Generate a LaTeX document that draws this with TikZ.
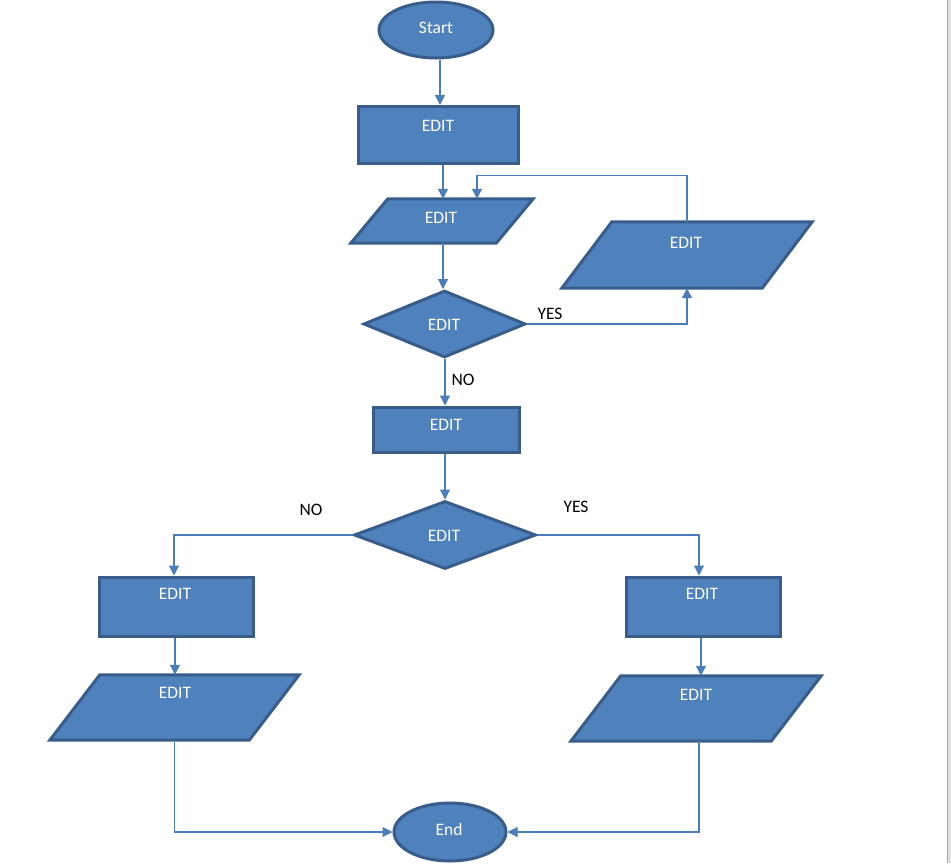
\documentclass[tikz,border=0pt]{standalone}
\usepackage{fontspec}
\setmainfont{Carlito}
\usetikzlibrary{shapes.geometric,arrows.meta,calc}
\definecolor{shapefill}{HTML}{4F81BD}
\definecolor{shapeedge}{HTML}{385D8A}
\definecolor{connc}{HTML}{4A7EBB}
\tikzset{
  shp/.style={fill=shapefill,draw=shapeedge,line width=3pt,inner sep=0pt},
  ell/.style={shp,ellipse},
  dia/.style={shp,diamond},
  txt/.style={text=white,font=\fontsize{17.5}{20}\selectfont,inner sep=0pt},
  lbl/.style={text=black,font=\fontsize{17.5}{20}\selectfont,inner sep=0pt},
  conn/.style={draw=connc,line width=1.1pt,-{Triangle[length=10pt,width=10pt]}},
}
\newcommand\mypara[6]{%
  \node[inner sep=0pt,minimum width={(#4+#6)*1pt},minimum height={#5*1pt}] (#1) at (#2,#3) {};
  \draw[shp] ($(#1.north west)+(#6pt,0pt)$) -- (#1.north east) -- ($(#1.south east)-(#6pt,0pt)$) -- (#1.south west) -- cycle;}
\begin{document}
\begin{tikzpicture}[x=1pt,y=-1pt]
\fill[white] (0,0) rectangle (951,863);
\useasboundingbox (0,0) rectangle (951,863);
\fill[black!12] (947,0) rectangle (951,863);
\draw[black!35,line width=1pt] (947.5,0) -- (947.5,863);

% shapes
\node[ell,minimum width=114pt,minimum height=56pt] (start) at (436,30) {};
\node[txt] at (436,28) {Start};
\node[shp,minimum width=160pt,minimum height=57pt] (r1) at (438.5,135) {};
\node[txt] at (438,126) {EDIT};
\mypara{p1}{442}{221}{145}{44}{37}
\node[txt] at (441,218) {EDIT};
\mypara{p2}{687}{255}{200}{66}{50}
\node[txt] at (686,243) {EDIT};
\node[dia,minimum width=162pt,minimum height=67pt] (d1) at (444.5,324) {};
\node[txt] at (444,325) {EDIT};
\node[shp,minimum width=146pt,minimum height=45pt] (r2) at (446,429.5) {};
\node[txt] at (446,425) {EDIT};
\node[dia,minimum width=182pt,minimum height=68pt] (d2) at (445,535) {};
\node[txt] at (444,536) {EDIT};
\node[shp,minimum width=154pt,minimum height=59pt] (r3) at (176,606.5) {};
\node[txt] at (175,594) {EDIT};
\node[shp,minimum width=154pt,minimum height=59pt] (r4) at (703,606.5) {};
\node[txt] at (702,594) {EDIT};
\mypara{p3}{174.5}{707.5}{199}{65}{50}
\node[txt] at (175,693) {EDIT};
\mypara{p4}{696}{708.5}{200}{65}{50}
\node[txt] at (696,695) {EDIT};
\node[ell,minimum width=112pt,minimum height=58pt] (end) at (450,832) {};
\node[txt] at (449,829) {End};

% connectors
\draw[conn] ([xshift=4pt]start.south) -- ([xshift=4pt]start.south |- r1.north);
\draw[conn] ([xshift=4.5pt]r1.south) -- ([xshift=4.5pt]r1.south |- p1.north);
\draw[conn] ([xshift=1pt]p1.south) -- ([xshift=1pt]p1.south |- d1.north);
\draw[conn] (d1.east) -| (p2.south);
\draw[conn] (p2.north) |- ([xshift=35pt,yshift=23pt]p1.north) -- ([xshift=35pt]p1.north);
\draw[conn] ([xshift=0.5pt]d1.south) -- ([xshift=0.5pt]d1.south |- r2.north);
\draw[conn] ([xshift=-1pt]r2.south) -- ([xshift=-1pt]r2.south |- d2.north);
\draw[conn] (d2.west) -| ([xshift=-2pt]r3.north);
\draw[conn] (d2.east) -| ([xshift=-4pt]r4.north);
\draw[conn] ([xshift=-1pt]r3.south) -- ([xshift=-1pt]r3.south |- p3.north);
\draw[conn] ([xshift=-2pt]r4.south) -- ([xshift=-2pt]r4.south |- p4.north);
\draw[conn] (p3.south) |- (end.west);
\draw[conn] ([xshift=3pt]p4.south) |- (end.east);

% labels
\node[lbl] (yes1) at (550,314) {YES};
\node[lbl] (no1) at (463,380) {NO};
\node[lbl] (no2) at (311,510) {NO};
\node[lbl] (yes2) at (576,507) {YES};
\end{tikzpicture}
\end{document}
